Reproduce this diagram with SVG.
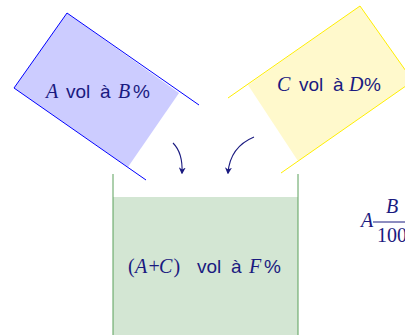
<svg xmlns="http://www.w3.org/2000/svg" width="405" height="335" viewBox="0 0 405 335">
<defs>
<style>
.lbl{font-family:"Liberation Sans",Arial,sans-serif;font-size:19px;fill:#1a1a80}
.m{font-family:"Liberation Serif","Times New Roman",serif;font-style:italic;font-size:20px}
.r{font-family:"Liberation Serif","Times New Roman",serif;font-size:20px}
.arr{fill:none;stroke:#1a1a80;stroke-width:1.1;marker-end:url(#ah)}
</style>
<marker id="ah" viewBox="0 0 10 10" refX="8" refY="5" markerWidth="7" markerHeight="7" markerUnits="userSpaceOnUse" orient="auto">
<path d="M0,0 L10,5 L0,10 L3,5 Z" fill="#1a1a80"/>
</marker>
</defs>
<rect width="405" height="335" fill="#ffffff"/>
<g id="containerA">
<polygon points="67,13 14,88 128,167 179,93" fill="#ccccff"/>
<polyline points="199,105 67,13 14,88 146,180" fill="none" stroke="#0000ff" stroke-width="1"/>
<text class="lbl" y="97.5"><tspan class="m" x="46">A</tspan><tspan x="66">vol</tspan><tspan x="100">à</tspan><tspan class="m" x="118">B</tspan><tspan x="133">%</tspan></text>
</g>
<g id="containerC">
<polygon points="360,6 413,81 298,161 248,85" fill="#fff9cc"/>
<polyline points="228,98 360,6 413,81 281,173" fill="none" stroke="#ffee00" stroke-width="1"/>
<text class="lbl" y="90.7"><tspan class="m" x="277">C</tspan><tspan x="299">vol</tspan><tspan x="333">à</tspan><tspan class="m" x="349">D</tspan><tspan x="364">%</tspan></text>
</g>
<g id="beaker">
<rect x="113" y="197" width="185" height="140" fill="#d3e6d3"/>
<line x1="113" y1="174" x2="113" y2="335" stroke="#5aa05a" stroke-width="1"/>
<line x1="298" y1="174" x2="298" y2="335" stroke="#5aa05a" stroke-width="1"/>
<text class="lbl" y="273.3"><tspan class="r" x="128">(</tspan><tspan class="m" x="135">A</tspan><tspan class="r" x="148.5">+</tspan><tspan class="m" x="159">C</tspan><tspan class="r" x="173.5">)</tspan><tspan x="197">vol</tspan><tspan x="231">à</tspan><tspan class="m" x="249">F</tspan><tspan x="264">%</tspan></text>
</g>
<g id="formula">
<text class="lbl m" x="361" y="227">A</text>
<text class="lbl m" x="386" y="213">B</text>
<line x1="373" y1="222" x2="405" y2="222" stroke="#1a1a80" stroke-width="1"/>
<text class="lbl r" x="377" y="242">100</text>
</g>
<g id="connectors">
<path class="arr" d="M173,143 Q183,153 182,173"/>
<path class="arr" d="M254,137 Q230,147 228,173"/>
</g>
</svg>
